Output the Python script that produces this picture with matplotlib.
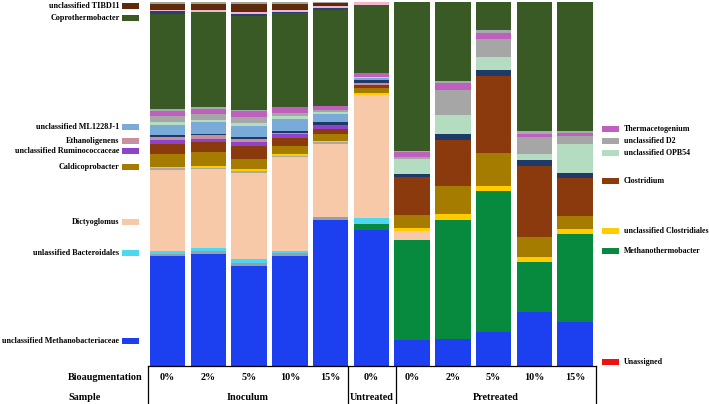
#!/usr/bin/env python3
"""Stacked relative-abundance bars for inoculum / untreated / pretreated samples."""

import matplotlib
matplotlib.use("Agg")
import matplotlib.pyplot as plt
import numpy as np
from matplotlib.patches import Rectangle
from matplotlib.transforms import blended_transform_factory


FONT = "Liberation Serif"

BIOAUG = ["0%", "2%", "5%", "10%", "15%", "0%", "0%", "2%", "5%", "10%", "15%"]
SAMPLE_GROUPS = ["Inoculum", "Untreated", "Pretreated"]

# relative abundance (%) per bar, stacked bottom -> top
unassigned = [0, 0, 0, 0, 0, 0, 0, 0, 0, 0, 0]
methanobacteriaceae = [30.0, 30.7, 27.5, 30.2, 39.9, 37.3, 7.1, 7.3, 9.4, 14.9, 12.2]
methanothermobacter = [0, 0, 0, 0, 0, 1.6, 27.4, 32.9, 38.7, 13.7, 24.2]
minor_gray_low = [0.8, 0.6, 0.8, 0.7, 0.9, 0, 0, 0, 0, 0, 0]
bacteroidales = [0.7, 0.9, 0.9, 0.5, 0, 1.6, 0, 0, 0, 0, 0]
dictyoglomus = [22.1, 21.5, 23.6, 25.9, 20.1, 33.8, 2.5, 0, 0, 0, 0]
minor_gray_mid = [0.5, 0.5, 0.5, 0.3, 0.3, 0, 0, 0, 0, 0, 0]
clostridiales = [0.5, 0.5, 0.6, 0.5, 0.4, 0.6, 0.9, 1.5, 1.4, 1.2, 1.2]
caldicoprobacter = [3.5, 3.8, 2.9, 2.1, 1.8, 1.3, 3.6, 7.8, 9.1, 5.7, 3.6]
clostridium = [2.7, 2.7, 3.5, 2.3, 1.6, 0.9, 10.3, 12.7, 21.1, 19.5, 10.5]
ruminococcaceae = [1.1, 0.9, 1.0, 0.9, 1.1, 0, 0, 0, 0, 0, 0]
ethanoligenens = [0.9, 0.9, 0.9, 0.5, 0, 0.5, 0, 0, 0, 0, 0]
minor_navy = [0.4, 0.5, 0.5, 0.5, 0.6, 0.7, 0.9, 1.4, 1.7, 1.5, 1.3]
ml1228j = [2.9, 3.2, 3.1, 3.1, 2.2, 0.5, 0, 0, 0, 0, 0]
opb54 = [0.8, 0.6, 0.8, 0.9, 0.6, 0.5, 4.1, 5.3, 3.7, 1.8, 7.9]
d2 = [1.6, 1.6, 1.5, 1.0, 0.6, 0, 0.6, 6.9, 4.9, 4.6, 2.2]
thermacetogenium = [1.4, 1.4, 1.6, 1.4, 1.2, 1.0, 1.2, 1.8, 1.6, 0.9, 0.9]
minor_gray_high = [0.5, 0.6, 0.5, 0, 0, 0, 0.5, 0.6, 0.9, 0.6, 0.5]
coprothermobacter = [26.1, 25.7, 25.6, 25.8, 26.1, 18.7, 40.9, 21.9, 7.8, 35.7, 35.7]
minor_navy_top = [0.6, 0, 0.5, 0.4, 0.7, 0, 0, 0, 0, 0, 0]
minor_pink = [0.5, 0.6, 0.7, 0.5, 0.5, 0.9, 0, 0, 0, 0, 0]
tibd11 = [1.5, 1.6, 2.0, 1.5, 0.7, 0, 0, 0, 0, 0, 0]
minor_gray_top = [0.7, 0.8, 0.8, 0.8, 0.5, 0, 0, 0, 0, 0, 0]

STACK = [
    (unassigned, "#ee1111"),
    (methanobacteriaceae, "#1c3ff0"),
    (methanothermobacter, "#078a3e"),
    (minor_gray_low, "#95a0a6"),
    (bacteroidales, "#4ed8f0"),
    (dictyoglomus, "#f7c9a9"),
    (minor_gray_mid, "#a9a9a0"),
    (clostridiales, "#ffcc00"),
    (caldicoprobacter, "#a67c00"),
    (clostridium, "#8b3a0e"),
    (ruminococcaceae, "#8e44c8"),
    (ethanoligenens, "#c98fa0"),
    (minor_navy, "#1f3a68"),
    (ml1228j, "#7aaad8"),
    (opb54, "#b4dcc0"),
    (d2, "#a6a6a6"),
    (thermacetogenium, "#c060be"),
    (minor_gray_high, "#a4aab0"),
    (coprothermobacter, "#3a5a25"),
    (minor_navy_top, "#2a3f78"),
    (minor_pink, "#f3b4cc"),
    (tibd11, "#5e2a0c"),
    (minor_gray_top, "#a8a49a"),
]

# legend entries: (label, colour, y pixel in the 709x404 picture)
LEFT_LEGEND = [
    ("unclassified TIBD11", "#5e2a0c", 6),
    ("Coprothermobacter", "#3a5a25", 18),
    ("unclassified ML1228J-1", "#7aaad8", 127),
    ("Ethanoligenens", "#c98fa0", 141),
    ("unclassified Ruminococcaceae", "#8e44c8", 151),
    ("Caldicoprobacter", "#a67c00", 167),
    ("Dictyoglomus", "#f7c9a9", 222),
    ("unlassified Bacteroidales", "#4ed8f0", 253),
    ("unclassified Methanobacteriaceae", "#1c3ff0", 341),
]
RIGHT_LEGEND = [
    ("Thermacetogenium", "#c060be", 129),
    ("unclassified D2", "#a6a6a6", 141),
    ("unclassified OPB54", "#b4dcc0", 153),
    ("Clostridium", "#8b3a0e", 181),
    ("unclassified Clostridiales", "#ffcc00", 231),
    ("Methanothermobacter", "#078a3e", 251),
    ("Unassigned", "#ee1111", 362),
]

W, H = 709, 404


def fx(px):
    return px / W


def fy(py):
    return 1 - py / H


def draw_legend(fig, entries, patch_x0, patch_x1, text_x, ha, size):
    for label, color, y in entries:
        fig.patches.append(Rectangle((fx(patch_x0), fy(y + 2.6)), fx(patch_x1 - patch_x0), 5.2 / H,
                                     transform=fig.transFigure, facecolor=color, edgecolor="none"))
        fig.text(fx(text_x), fy(y), label, ha=ha, va="center", fontsize=size,
                 fontweight="bold", family=FONT)


def main():
    fig = plt.figure(figsize=(W / 100, H / 100), dpi=100)
    ax = fig.add_axes([fx(143.3), fy(366), fx(456.2), 364.5 / H])

    data = np.array([series for series, _ in STACK], dtype=float)
    data = data / data.sum(axis=0) * 100.0
    x = np.arange(len(BIOAUG))
    bottom = np.zeros(len(BIOAUG))
    for values, (_, color) in zip(data, STACK):
        ax.bar(x, values, bottom=bottom, width=0.87, color=color, linewidth=0)
        bottom += values

    ax.set_xlim(-0.6, 10.6)
    ax.set_ylim(0, 100)
    ax.axis("off")

    # table under the bars
    trans = blended_transform_factory(ax.transData, ax.transAxes)
    y_bottom = -38.0 / 364.5
    ax.plot([-0.48, 10.52], [0, 0], color="black", lw=0.9, transform=trans, clip_on=False)
    for xv in (-0.48, 4.42, 5.6, 10.52):
        ax.plot([xv, xv], [0, y_bottom], color="black", lw=0.9, transform=trans, clip_on=False)
    for xi, label in zip(x, BIOAUG):
        ax.text(xi, -12.0 / 364.5, label, transform=trans, ha="center", va="center",
                fontsize=7.3, fontweight="bold", family=FONT)
    for xc, label in zip((1.97, 5.01, 8.06), SAMPLE_GROUPS):
        ax.text(xc, -31.0 / 364.5, label, transform=trans, ha="center", va="center",
                fontsize=7.3, fontweight="bold", family=FONT)
    fig.text(fx(68), fy(378), "Bioaugmentation", ha="left", va="center", fontsize=7.3,
             fontweight="bold", family=FONT)
    fig.text(fx(68), fy(397), "Sample", ha="left", va="center", fontsize=7.3,
             fontweight="bold", family=FONT)

    draw_legend(fig, LEFT_LEGEND, 122, 139, 119.5, "right", 5.9)
    draw_legend(fig, RIGHT_LEGEND, 602, 619, 623.5, "left", 5.7)

    fig.savefig("out.png", dpi=100, facecolor="white")
    plt.close(fig)


if __name__ == "__main__":
    main()
